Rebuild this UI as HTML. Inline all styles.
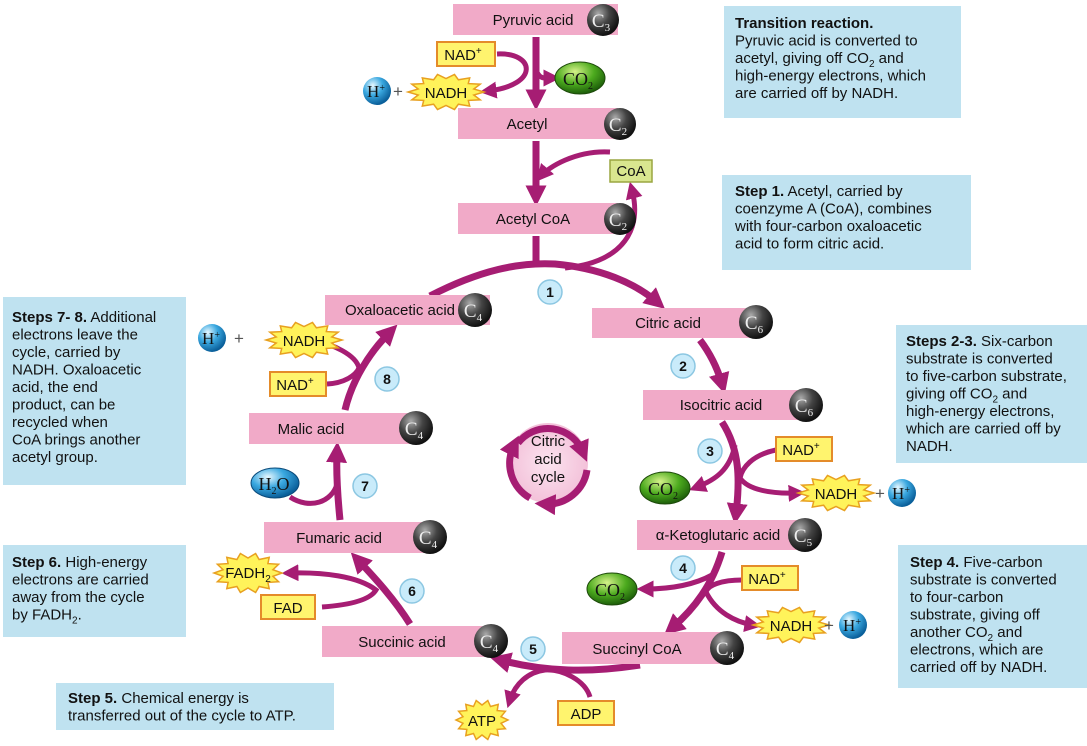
<!DOCTYPE html>
<html><head><meta charset="utf-8"><style>
html,body{margin:0;padding:0;background:#fff;}
svg{display:block;font-family:"Liberation Sans",sans-serif;}
.bx{fill:#bfe2f0;}
.t{font-size:15px;fill:#111;}
.bar{fill:#f1aac8;}
.bl{font-size:15px;fill:#111;text-anchor:middle;}
.ar{fill:none;stroke:#a61d73;stroke-width:7;}
.as{fill:none;stroke:#a61d73;stroke-width:5;}
.yb{fill:#fff46e;stroke:#e48b2a;stroke-width:2;}
.num{fill:#c9ebfa;stroke:#8cc7e2;stroke-width:1.5;}
.nt{font-size:14px;font-weight:bold;text-anchor:middle;fill:#111;}
.pl{font-size:17px;fill:#555;}
</style></head><body>
<svg width="1087" height="746" viewBox="0 0 1087 746" xmlns="http://www.w3.org/2000/svg">
<defs>
<marker id="m" viewBox="0 0 10 10" refX="5" refY="5" markerWidth="3" markerHeight="3" orient="auto"><path d="M0,0L10,5L0,10z" fill="#a61d73"/></marker>
<marker id="ms" viewBox="0 0 10 10" refX="5" refY="5" markerWidth="3.4" markerHeight="3.4" orient="auto"><path d="M0,0L10,5L0,10z" fill="#a61d73"/></marker>
<radialGradient id="gc" cx="35%" cy="30%" r="70%"><stop offset="0" stop-color="#aaa"/><stop offset="0.5" stop-color="#444"/><stop offset="1" stop-color="#111"/></radialGradient>
<radialGradient id="gb" cx="35%" cy="30%" r="70%"><stop offset="0" stop-color="#e8f8ff"/><stop offset="0.5" stop-color="#3aa8e0"/><stop offset="1" stop-color="#0a5f9a"/></radialGradient>
<radialGradient id="gg" cx="40%" cy="30%" r="70%"><stop offset="0" stop-color="#d6f28a"/><stop offset="0.55" stop-color="#4caa1e"/><stop offset="1" stop-color="#1d5e0a"/></radialGradient>
<radialGradient id="gp" cx="50%" cy="50%" r="50%"><stop offset="0" stop-color="#fbe3ef"/><stop offset="1" stop-color="#f3c1d9"/></radialGradient>
</defs>

<!-- blue boxes -->
<rect class="bx" x="724" y="6" width="237" height="112"/>
<text class="t" x="735" y="28"><tspan font-weight="bold">Transition reaction.</tspan><tspan x="735" dy="17.5">Pyruvic acid is converted to</tspan><tspan x="735" dy="17.5">acetyl, giving off CO<tspan font-size="10" dy="4">2</tspan><tspan dy="-4"> and</tspan></tspan><tspan x="735" dy="17.5">high-energy electrons, which</tspan><tspan x="735" dy="17.5">are carried off by NADH.</tspan></text>
<rect class="bx" x="722" y="175" width="249" height="95"/>
<text class="t" x="735" y="196"><tspan font-weight="bold">Step 1.</tspan> Acetyl, carried by<tspan x="735" dy="17.5">coenzyme A (CoA), combines</tspan><tspan x="735" dy="17.5">with four-carbon oxaloacetic</tspan><tspan x="735" dy="17.5">acid to form citric acid.</tspan></text>
<rect class="bx" x="3" y="297" width="183" height="188"/>
<text class="t" x="12" y="322"><tspan font-weight="bold">Steps 7- 8.</tspan> Additional<tspan x="12" dy="17.5">electrons leave the</tspan><tspan x="12" dy="17.5">cycle, carried by</tspan><tspan x="12" dy="17.5">NADH. Oxaloacetic</tspan><tspan x="12" dy="17.5">acid, the end</tspan><tspan x="12" dy="17.5">product, can be</tspan><tspan x="12" dy="17.5">recycled when</tspan><tspan x="12" dy="17.5">CoA brings another</tspan><tspan x="12" dy="17.5">acetyl group.</tspan></text>
<rect class="bx" x="896" y="325" width="191" height="138"/>
<text class="t" x="906" y="346"><tspan font-weight="bold">Steps 2-3.</tspan> Six-carbon<tspan x="906" dy="17.5">substrate is converted</tspan><tspan x="906" dy="17.5">to five-carbon substrate,</tspan><tspan x="906" dy="17.5">giving off CO<tspan font-size="10" dy="4">2</tspan><tspan dy="-4"> and</tspan></tspan><tspan x="906" dy="17.5">high-energy electrons,</tspan><tspan x="906" dy="17.5">which are carried off by</tspan><tspan x="906" dy="17.5">NADH.</tspan></text>
<rect class="bx" x="3" y="545" width="183" height="92"/>
<text class="t" x="12" y="567"><tspan font-weight="bold">Step 6.</tspan> High-energy<tspan x="12" dy="17.5">electrons are carried</tspan><tspan x="12" dy="17.5">away from the cycle</tspan><tspan x="12" dy="17.5">by FADH<tspan font-size="10" dy="4">2</tspan><tspan dy="-4">.</tspan></tspan></text>
<rect class="bx" x="898" y="545" width="189" height="143"/>
<text class="t" x="910" y="567"><tspan font-weight="bold">Step 4.</tspan> Five-carbon<tspan x="910" dy="17.5">substrate is converted</tspan><tspan x="910" dy="17.5">to four-carbon</tspan><tspan x="910" dy="17.5">substrate, giving off</tspan><tspan x="910" dy="17.5">another CO<tspan font-size="10" dy="4">2</tspan><tspan dy="-4"> and</tspan></tspan><tspan x="910" dy="17.5">electrons, which are</tspan><tspan x="910" dy="17.5">carried off by NADH.</tspan></text>
<rect class="bx" x="56" y="683" width="278" height="47"/>
<text class="t" x="68" y="703"><tspan font-weight="bold">Step 5.</tspan> Chemical energy is<tspan x="68" dy="17.5">transferred out of the cycle to ATP.</tspan></text>

<!-- arrows -->
<g>
<path class="ar" d="M536,37 L536,100" marker-end="url(#m)"/>
<path class="as" d="M497,54 C535,52 540,85 488,91" marker-end="url(#ms)"/>
<path class="as" d="M536,70 C540,80 545,78 552,78" marker-end="url(#ms)"/>
<path class="ar" d="M536,141 L536,196" marker-end="url(#m)"/>
<path class="as" d="M610,152 C575,150 548,168 542,175" marker-end="url(#ms)"/>
<path class="ar" d="M536,236 L536,266"/>
<path class="as" d="M565,268 C625,262 642,228 632,190" marker-end="url(#ms)"/>
<path class="ar" d="M430,296 C480,270 520,262 555,264 C600,268 635,283 657,302" marker-end="url(#m)"/>
<path class="ar" d="M700,340 C712,356 718,370 722,384" marker-end="url(#m)"/>
<path class="ar" d="M722,422 C740,450 740,480 736,514" marker-end="url(#m)"/>
<path class="as" d="M735,445 C730,470 715,480 697,487" marker-end="url(#ms)"/>
<path class="as" d="M776,450 C752,455 742,468 740,478 C748,490 772,494 797,493" marker-end="url(#ms)"/>
<path class="ar" d="M722,552 C712,585 695,608 672,628" marker-end="url(#m)"/>
<path class="as" d="M712,575 C692,586 668,589 645,589" marker-end="url(#ms)"/>
<path class="as" d="M742,580 C722,580 708,585 706,592 C716,612 735,622 753,625" marker-end="url(#ms)"/>
<path class="ar" d="M640,665 C590,673 545,672 500,660" marker-end="url(#m)"/>
<path class="as" d="M590,697 C585,680 562,669 545,670 C528,672 515,684 510,700" marker-end="url(#ms)"/>
<path class="ar" d="M410,624 C395,600 375,578 358,560" marker-end="url(#m)"/>
<path class="as" d="M322,607 C350,605 370,600 376,590 C358,576 322,572 290,573" marker-end="url(#ms)"/>
<path class="ar" d="M340,520 C338,500 336,475 337,452" marker-end="url(#m)"/>
<path class="as" d="M290,497 C310,510 332,502 337,484"/>
<path class="ar" d="M345,410 C352,380 370,352 390,332" marker-end="url(#m)"/>
<path class="as" d="M327,384 C345,383 356,375 359,368 C356,355 333,344 312,340" marker-end="url(#ms)"/>
</g>

<!-- bars -->
<rect class="bar" x="453" y="4" width="165" height="31"/><text class="bl" x="533" y="25">Pyruvic acid</text>
<rect class="bar" x="458" y="108" width="160" height="31"/><text class="bl" x="527" y="129">Acetyl</text>
<rect class="bar" x="458" y="203" width="160" height="31"/><text class="bl" x="533" y="224">Acetyl CoA</text>
<rect class="bar" x="325" y="295" width="165" height="30"/><text class="bl" x="400" y="315">Oxaloacetic acid</text>
<rect class="bar" x="592" y="308" width="165" height="30"/><text class="bl" x="668" y="328">Citric acid</text>
<rect class="bar" x="643" y="390" width="160" height="30"/><text class="bl" x="721" y="410">Isocitric acid</text>
<rect class="bar" x="249" y="413" width="170" height="31"/><text class="bl" x="311" y="434">Malic acid</text>
<rect class="bar" x="637" y="520" width="165" height="30"/><text class="bl" x="718" y="540">α-Ketoglutaric acid</text>
<rect class="bar" x="264" y="522" width="170" height="31"/><text class="bl" x="339" y="543">Fumaric acid</text>
<rect class="bar" x="322" y="626" width="172" height="31"/><text class="bl" x="402" y="647">Succinic acid</text>
<rect class="bar" x="562" y="632" width="160" height="32"/><text class="bl" x="637" y="654">Succinyl CoA</text>

<!-- carbon circles -->
<g font-family="Liberation Serif,serif" fill="#eee" text-anchor="middle">
<circle cx="603" cy="20" r="16" fill="url(#gc)"/><text x="601" y="27" font-size="19">C<tspan font-size="11" dy="4">3</tspan></text>
<circle cx="620" cy="124" r="16" fill="url(#gc)"/><text x="618" y="131" font-size="19">C<tspan font-size="11" dy="4">2</tspan></text>
<circle cx="620" cy="219" r="16" fill="url(#gc)"/><text x="618" y="226" font-size="19">C<tspan font-size="11" dy="4">2</tspan></text>
<circle cx="475" cy="310" r="17" fill="url(#gc)"/><text x="473" y="317" font-size="19">C<tspan font-size="11" dy="4">4</tspan></text>
<circle cx="756" cy="322" r="17" fill="url(#gc)"/><text x="754" y="329" font-size="19">C<tspan font-size="11" dy="4">6</tspan></text>
<circle cx="806" cy="405" r="17" fill="url(#gc)"/><text x="804" y="412" font-size="19">C<tspan font-size="11" dy="4">6</tspan></text>
<circle cx="416" cy="428" r="17" fill="url(#gc)"/><text x="414" y="435" font-size="19">C<tspan font-size="11" dy="4">4</tspan></text>
<circle cx="805" cy="535" r="17" fill="url(#gc)"/><text x="803" y="542" font-size="19">C<tspan font-size="11" dy="4">5</tspan></text>
<circle cx="430" cy="537" r="17" fill="url(#gc)"/><text x="428" y="544" font-size="19">C<tspan font-size="11" dy="4">4</tspan></text>
<circle cx="491" cy="641" r="17" fill="url(#gc)"/><text x="489" y="648" font-size="19">C<tspan font-size="11" dy="4">4</tspan></text>
<circle cx="727" cy="648" r="17" fill="url(#gc)"/><text x="725" y="655" font-size="19">C<tspan font-size="11" dy="4">4</tspan></text>
</g>

<!-- yellow boxes -->
<g font-size="15" text-anchor="middle" fill="#111">
<rect class="yb" x="437" y="42" width="58" height="24"/><text x="463" y="60">NAD<tspan font-size="10" dy="-6">+</tspan></text>
<rect x="610" y="160" width="42" height="22" fill="#d9e68f" stroke="#9aa640" stroke-width="1.5"/><text x="631" y="176">CoA</text>
<rect class="yb" x="776" y="437" width="56" height="24"/><text x="801" y="455">NAD<tspan font-size="10" dy="-6">+</tspan></text>
<rect class="yb" x="742" y="566" width="56" height="24"/><text x="767" y="584">NAD<tspan font-size="10" dy="-6">+</tspan></text>
<rect class="yb" x="270" y="372" width="56" height="24"/><text x="295" y="390">NAD<tspan font-size="10" dy="-6">+</tspan></text>
<rect class="yb" x="261" y="595" width="54" height="24"/><text x="288" y="613">FAD</text>
<rect class="yb" x="558" y="701" width="56" height="24"/><text x="586" y="719">ADP</text>
</g>

<!-- stars -->
<g id="stars"></g>
<g font-size="15" text-anchor="middle" fill="#111">
<text x="446" y="98">NADH</text>
<text x="836" y="499">NADH</text>
<text x="791" y="631">NADH</text>
<text x="304" y="346">NADH</text>
<text x="248" y="578">FADH<tspan font-size="10" dy="4">2</tspan></text>
<text x="482" y="726">ATP</text>
</g>
<g text-anchor="middle">
<text class="pl" x="398" y="97">+</text>
<text class="pl" x="880" y="499">+</text>
<text class="pl" x="829" y="631">+</text>
<text class="pl" x="239" y="344">+</text>
</g>

<!-- H+ and molecules -->
<g font-family="Liberation Serif,serif" text-anchor="middle" fill="#111">
<circle cx="377" cy="91" r="14" fill="url(#gb)"/><text x="376" y="97" font-size="17">H<tspan font-size="10" dy="-6">+</tspan></text>
<circle cx="902" cy="493" r="14" fill="url(#gb)"/><text x="901" y="499" font-size="17">H<tspan font-size="10" dy="-6">+</tspan></text>
<circle cx="853" cy="625" r="14" fill="url(#gb)"/><text x="852" y="631" font-size="17">H<tspan font-size="10" dy="-6">+</tspan></text>
<circle cx="212" cy="338" r="14" fill="url(#gb)"/><text x="211" y="344" font-size="17">H<tspan font-size="10" dy="-6">+</tspan></text>
<ellipse cx="580" cy="78" rx="25" ry="16" fill="url(#gg)" stroke="#1d4a0a"/><text x="578" y="85" font-size="18">CO<tspan font-size="10" dy="4">2</tspan></text>
<ellipse cx="665" cy="488" rx="25" ry="16" fill="url(#gg)" stroke="#1d4a0a"/><text x="663" y="495" font-size="18">CO<tspan font-size="10" dy="4">2</tspan></text>
<ellipse cx="612" cy="589" rx="25" ry="16" fill="url(#gg)" stroke="#1d4a0a"/><text x="610" y="596" font-size="18">CO<tspan font-size="10" dy="4">2</tspan></text>
<ellipse cx="275" cy="483" rx="24" ry="15" fill="url(#gb)" stroke="#0a4a7a"/><text x="274" y="490" font-size="18">H<tspan font-size="10" dy="4">2</tspan><tspan dy="-4">O</tspan></text>
</g>

<!-- numbers -->
<g>
<circle class="num" cx="550" cy="292" r="12"/><text class="nt" x="550" y="297">1</text>
<circle class="num" cx="683" cy="366" r="12"/><text class="nt" x="683" y="371">2</text>
<circle class="num" cx="710" cy="451" r="12"/><text class="nt" x="710" y="456">3</text>
<circle class="num" cx="683" cy="568" r="12"/><text class="nt" x="683" y="573">4</text>
<circle class="num" cx="533" cy="649" r="12"/><text class="nt" x="533" y="654">5</text>
<circle class="num" cx="412" cy="591" r="12"/><text class="nt" x="412" y="596">6</text>
<circle class="num" cx="365" cy="486" r="12"/><text class="nt" x="365" y="491">7</text>
<circle class="num" cx="387" cy="379" r="12"/><text class="nt" x="387" y="384">8</text>
</g>

<!-- cycle -->
<circle cx="548" cy="463" r="40" fill="url(#gp)"/>
<path class="ar" d="M518,443 A38,38 0 0 1 583,452" marker-end="url(#m)"/>
<path class="ar" d="M587,470 A40,40 0 0 1 545,504" marker-end="url(#m)" stroke-width="6"/>
<path class="ar" d="M530,498 A40,40 0 0 1 514,445" marker-end="url(#m)" stroke-width="6"/>
<text class="bl" x="548" y="446">Citric</text>
<text class="bl" x="548" y="464">acid</text>
<text class="bl" x="548" y="482">cycle</text>
</svg>
<script>
(function(){
 var stars=[[446,92,38,18],[836,493,38,18],[791,625,38,18],[304,340,38,18],[248,573,34,20],[482,720,26,20]];
 var g=document.getElementById('stars'),ns='http://www.w3.org/2000/svg';
 stars.forEach(function(s){
  var n=14,pts=[];
  for(var i=0;i<n*2;i++){
   var a=Math.PI*i/n, r=(i%2)?0.75:1;
   pts.push((s[0]+Math.cos(a)*s[2]*r).toFixed(1)+','+(s[1]+Math.sin(a)*s[3]*r).toFixed(1));
  }
  var p=document.createElementNS(ns,'polygon');
  p.setAttribute('points',pts.join(' '));
  p.setAttribute('fill','#fff35a');p.setAttribute('stroke','#e8a020');p.setAttribute('stroke-width','1.5');
  g.appendChild(p);
 });
})();
</script>
</body></html>
